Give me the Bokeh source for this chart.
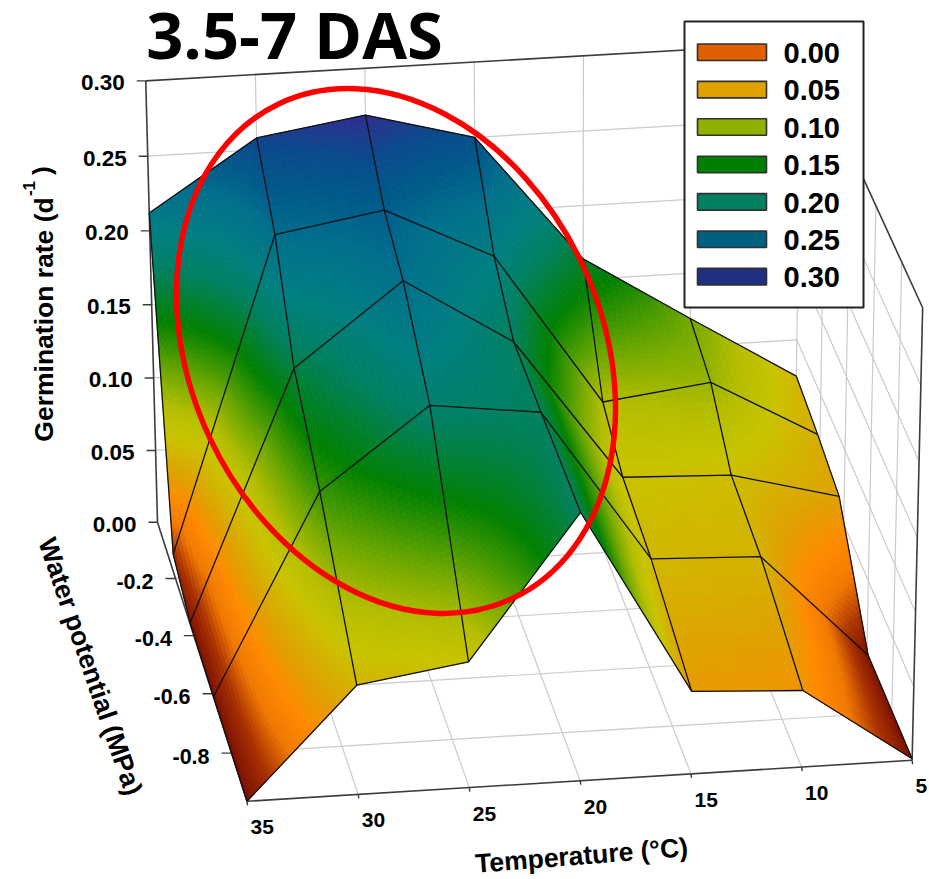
import numpy as np
from bokeh.plotting import figure
from bokeh.models import Range1d
from bokeh.core.properties import value
from bokeh.embed import file_html
from bokeh.resources import INLINE

# ---- data ----
temperature = [35, 30, 25, 20, 15, 10, 5]
water_rows = [0.0, -0.18, -0.36, -0.61, -0.96]
rate_row0 = [0.212, 0.258, 0.269, 0.250, 0.164, 0.119, 0.075]
rate_row1 = [0.013, 0.226, 0.238, 0.203, 0.100, 0.109, 0.069]
rate_row2 = [0.001, 0.170, 0.224, 0.179, 0.083, 0.080, 0.061]
rate_row3 = [0.000, 0.135, 0.188, 0.179, 0.076, 0.073, 0.001]
rate_row4 = [0.000, 0.074, 0.085, 0.180, 0.056, 0.052, 0.001]

z_ticks = [0.00, 0.05, 0.10, 0.15, 0.20, 0.25, 0.30]
z_labels = ["0.00", "0.05", "0.10", "0.15", "0.20", "0.25", "0.30"]
psi_ticks = [-0.2, -0.4, -0.6, -0.8]
psi_labels = ["-0.2", "-0.4", "-0.6", "-0.8"]
t_labels = ["35", "30", "25", "20", "15", "10", "5"]
legend_values = ["0.00", "0.05", "0.10", "0.15", "0.20", "0.25", "0.30"]
legend_colors = ["#E06000", "#E0A000", "#90B000", "#008000", "#008060", "#006080", "#203080"]

# surface colour ramp
ramp_z = [0.0, 0.015, 0.03, 0.045, 0.06, 0.085, 0.10, 0.12, 0.15, 0.18, 0.20, 0.225, 0.24, 0.255, 0.27, 0.30]
ramp_c = ["#7a0e00", "#a83000", "#f07800", "#ff8a00", "#e0a000", "#c8c400", "#b4bd00",
          "#70a800", "#008000", "#008060", "#007f80", "#006f8c", "#005a8a",
          "#0a4a8c", "#352a90", "#2a2a90"]

# the box of the 3-D view: (temperature, water potential, rate) -> page position
PSI_END = -0.96
box_world = [(35, 0, 0), (35, 0, .3), (35, PSI_END, 0), (5, 0, 0), (5, 0, .3),
             (5, PSI_END, 0), (5, PSI_END, .3), (20, PSI_END, 0), (20, 0, .3)]
box_page = [(157, 518), (145, 82), (246, 803), (794, 488), (800, 40),
            (912, 757), (922, 308), (580, 780), (475, 62)]


def camera():
    rows = []
    for (t, w, r), (u, v) in zip(box_world, box_page):
        X = [t / 30, w, r / .3, 1]
        rows.append(X + [0, 0, 0, 0] + [-u * c for c in X])
        rows.append([0, 0, 0, 0] + X + [-v * c for c in X])
    return np.linalg.svd(np.array(rows, float))[2][-1].reshape(3, 4)


CAM = camera()


def project(t, w, r):
    t, w, r = np.asarray(t, float), np.asarray(w, float), np.asarray(r, float)
    X = np.stack([t / 30, w, r / .3, np.ones_like(t * w * r)])
    q = CAM @ X
    return q[0] / q[2], q[1] / q[2]


def rgb(h):
    return [int(h[i:i + 2], 16) for i in (1, 3, 5)]


ramp_rgb = np.array([rgb(c) for c in ramp_c], float)


def shade(r):
    return "#%02x%02x%02x" % tuple(int(round(np.interp(r, ramp_z, ramp_rgb[:, k]))) for k in range(3))


p = figure(width=929, height=879, output_backend="svg", toolbar_location=None,
           x_range=Range1d(0, 929), y_range=Range1d(879, 0), min_border=0)
p.axis.visible = False
p.grid.visible = False
p.outline_line_color = None
p.background_fill_color = "white"

T0, T1 = temperature[0], temperature[-1]
GRID = "#cbcbcb"
AX = "#3c3c3c"


def seg(a, b, **kw):
    x0, y0 = project(*a)
    x1, y1 = project(*b)
    p.line([float(x0), float(x1)], [float(y0), float(y1)], **kw)


# walls and floor
for t in temperature[1:-1]:
    seg((t, 0, 0), (t, 0, .3), line_color=GRID, line_width=1.2)
    seg((t, 0, 0), (t, PSI_END, 0), line_color=GRID, line_width=1.2)
for z in z_ticks[1:-1]:
    seg((T0, 0, z), (T1, 0, z), line_color=GRID, line_width=1.2)
    seg((T1, 0, z), (T1, PSI_END, z), line_color=GRID, line_width=1.2)
seg((T1, 0, 0), (T1, 0, .3), line_color=GRID, line_width=1.2)
for w in psi_ticks:
    seg((T0, w, 0), (T1, w, 0), line_color=GRID, line_width=1.2)
    seg((T1, w, 0), (T1, w, .3), line_color=GRID, line_width=1.2)

# box outline
for a, b in [((T0, 0, 0), (T0, 0, .3)), ((T0, 0, .3), (T1, 0, .3)), ((T1, 0, .3), (T1, PSI_END, .3)),
             ((T1, PSI_END, .3), (T1, PSI_END, 0)), ((T0, 0, 0), (T0, PSI_END, 0)),
             ((T0, PSI_END, 0), (T1, PSI_END, 0))]:
    seg(a, b, line_color=AX, line_width=1.6)

# ticks
zx, zy = project([T0] * 7, [0] * 7, z_ticks)
for x, y in zip(zx, zy):
    p.line([x - 9, x], [y, y], line_color=AX, line_width=1.4)
wx, wy = project([T0] * 4, psi_ticks, [0] * 4)
for x, y in zip(wx, wy):
    p.line([x - 10, x], [y, y], line_color=AX, line_width=1.4)
tx, ty = project(temperature, [PSI_END] * 7, [0] * 7)
for x, y in zip(tx, ty):
    p.line([x, x + .5], [y, y + 4], line_color=AX, line_width=1.4)

# surface
rate = np.array([rate_row0, rate_row1, rate_row2, rate_row3, rate_row4])
T = np.array(temperature, float)
W = np.array(water_rows, float)
xs, ys, cols = [], [], []
STEP = 0.0028
for j in range(len(W) - 1):
    for i in range(len(T) - 1):
        c00, c10, c01, c11 = rate[j, i], rate[j, i + 1], rate[j + 1, i], rate[j + 1, i + 1]
        Ns = int(np.clip(max(abs(c10 - c00), abs(c11 - c01)) / STEP, 6, 44))
        Nu = int(np.clip(max(abs(c01 - c00), abs(c11 - c10)) / STEP, 6, 44))
        for a in range(Ns):
            for b in range(Nu):
                px, py, pz = [], [], []
                for s, u in ((a, b), (a + 1, b), (a + 1, b + 1), (a, b + 1)):
                    fs, fu = s / Ns, u / Nu
                    r = (1 - fs) * (1 - fu) * c00 + fs * (1 - fu) * c10 + (1 - fs) * fu * c01 + fs * fu * c11
                    x, y = project(T[i] + fs * (T[i + 1] - T[i]), W[j] + fu * (W[j + 1] - W[j]), r)
                    px.append(round(float(x), 2))
                    py.append(round(float(y), 2))
                    pz.append(r)
                xs.append(px)
                ys.append(py)
                cols.append(shade(np.mean(pz)))
p.patches(xs, ys, fill_color=cols, line_color=cols, line_width=0.8)

lx, ly = [], []
for j in range(len(W)):
    x, y = project(T, np.full_like(T, W[j]), rate[j])
    lx.append(list(x))
    ly.append(list(y))
for i in range(len(T)):
    x, y = project(np.full_like(W, T[i]), W, rate[:, i])
    lx.append(list(x))
    ly.append(list(y))
p.multi_line(lx, ly, line_color="#101010", line_width=1.3)

# red ellipse
p.ellipse([395.5], [350.5], width=547, height=411, angle=np.radians(-64.7),
          fill_color=None, line_color="#ff0000", line_width=5.5)

# legend
p.quad(left=[684], right=[863], top=[21], bottom=[307], fill_color="white", line_color="#222222", line_width=2)
for k, (lab, col) in enumerate(zip(legend_values, legend_colors)):
    y0 = 43.5 + 37.4 * k
    p.quad(left=[697], right=[766], top=[y0], bottom=[y0 + 16.5], fill_color=col, line_color="#303030", line_width=1.6)
    p.text([783], [y0 + 9], text=[lab], text_font=value("Liberation Sans"), text_font_style="bold",
           text_font_size="29px", text_align="left", text_baseline="middle", text_color="black")


def label(x, y, s, size, align="center", angle=0.0, font="Liberation Sans"):
    p.text([x], [y], text=[s], text_font=value(font), text_font_style="bold", text_font_size=size,
           text_align=align, text_baseline="middle", text_color="black", angle=angle)


for x, y, s in zip(zx, zy, z_labels):
    label(x - 21, y + 2, s, "22.5px", "right")
for x, y, s in zip(wx, wy, psi_labels):
    label(x - 22, y + 3, s, "21.5px", "right")
for x, y, s in zip(tx, ty, t_labels):
    label(x + 3.5, y + 26, s, "21px", "left")

label(294, 33, "3.5-7 DAS", "65px", font="Open Sans")
label(43, 319, "Germination rate (d", "26.5px", angle=np.pi / 2)
label(28, 188, "-1", "17px", angle=np.pi / 2)
label(41, 170, ")", "26.5px", angle=np.pi / 2)
label(90, 666, "Water potential (MPa)", "26.5px", angle=np.radians(-71))
label(581, 855, "Temperature (°C)", "26.5px", angle=np.radians(4.5))

open("out.html", "w").write(file_html(p, INLINE))
